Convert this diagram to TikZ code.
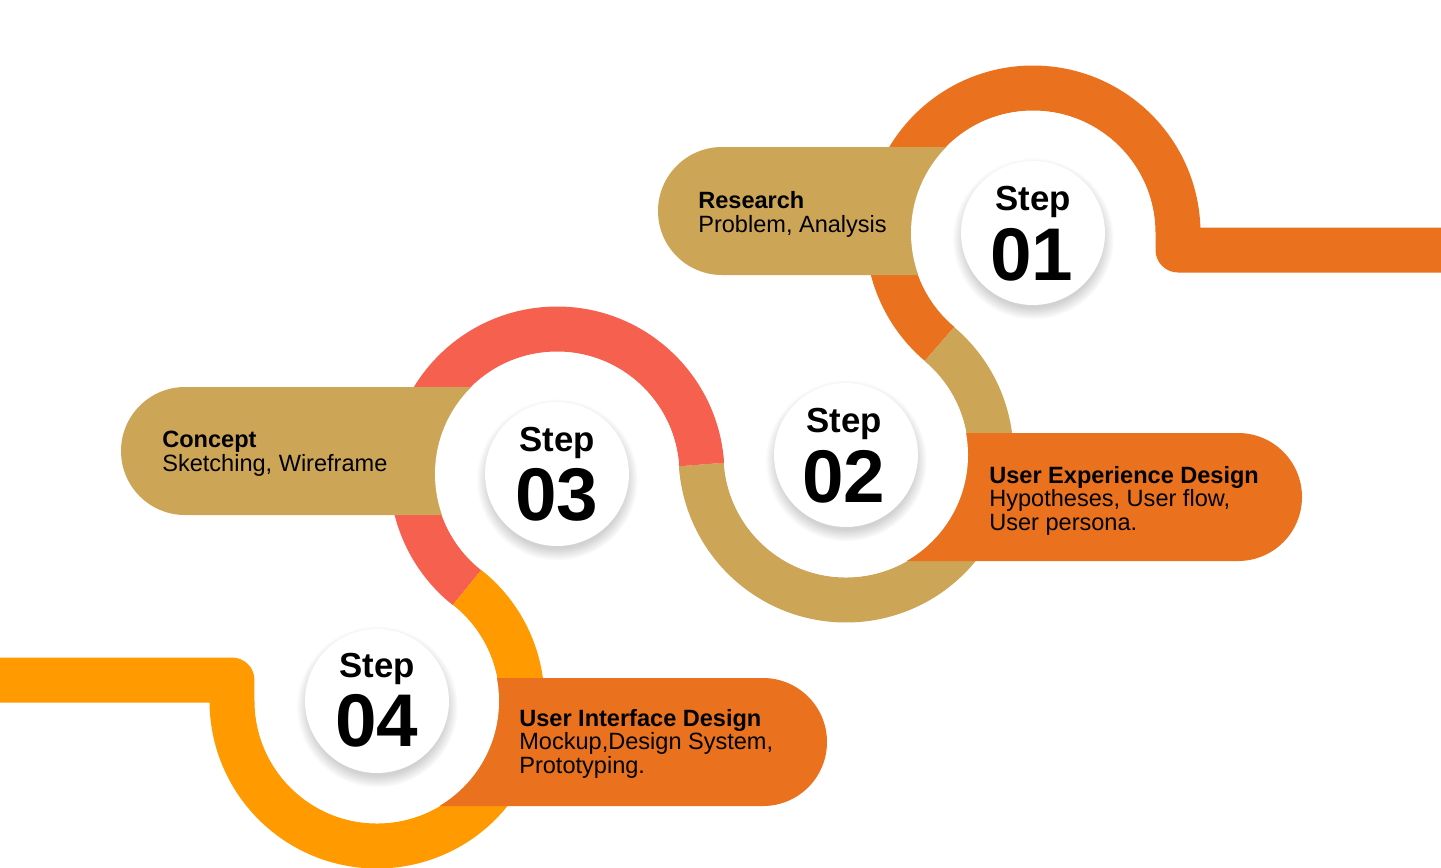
\documentclass[tikz,border=0pt]{standalone}
\usepackage{fontspec}
\setmainfont{Liberation Sans}
\usetikzlibrary{shadows}
\definecolor{rust}{HTML}{EA721E}
\definecolor{sand}{HTML}{CDA557}
\definecolor{coral}{HTML}{F5604F}
\definecolor{amber}{HTML}{FF9A00}

\begin{document}
\begin{tikzpicture}[x=0.02cm,y=-0.02cm]
      \tikzstyle{track}=[line width=0.9cm,line join=round]
      \tikzstyle{pill}=[rounded corners=1.28cm]
      \tikzstyle{stepdisc}=[circle,fill=white,minimum size=2.88cm,inner sep=0pt,
        circular drop shadow={shadow scale=1.12,shadow xshift=0pt,shadow yshift=-0.1cm,opacity=0.35}]
      \tikzstyle{steplbl}=[anchor=base,inner sep=0pt,font=\bfseries\fontsize{19.8}{20}\selectfont]
      \tikzstyle{stepnum}=[anchor=base,inner sep=0pt,font=\bfseries\fontsize{42.5}{43}\selectfont]
      \tikzstyle{info}=[anchor=base west,align=left,inner sep=0pt,font=\fontsize{13.4}{13.2}\selectfont]
      \useasboundingbox (0,0) rectangle (1441,867);
      % Centres of the four steps
      \coordinate (c1) at (1033,233);
      \coordinate (c2) at (846,455);
      \coordinate (c3) at (557,474);
      \coordinate (c4) at (377,701);
      % Winding track, one colour per step
      \draw[track,rust] (1441,250) -- (1178,250) -- (1178,233)
        arc[start angle=0,end angle=-229.89,radius=145];
      \draw[track,sand] (c2) ++(-49.89:145) arc[start angle=-49.89,end angle=176.24,radius=145];
      \draw[track,coral] (c3) ++(-3.76:145) arc[start angle=-3.76,end angle=-231.59,radius=145];
      \draw[track,amber] (c4) ++(-51.59:145) arc[start angle=-51.59,end angle=180,radius=145]
        -- ++(0,-21) -- (0,680);
      % Label pills
      \fill[sand,pill] (658,147) rectangle (1033,275);
      \fill[rust,pill] (846,433) rectangle (1302,561);
      \fill[sand,pill] (121,387) rectangle (557,515);
      \fill[rust,pill] (377,678) rectangle (827,806);
      % White holes inside the track
      \foreach \c in {c1,c2,c3,c4}
        \fill[white] (\c) circle[radius=122];
      % Step discs
      \node[stepdisc] (d1) at (c1) {};
      \node[stepdisc] (d2) at (c2) {};
      \node[stepdisc] (d3) at (c3) {};
      \node[stepdisc] (d4) at (c4) {};
      \node[steplbl] (s1) at (1033,210) {Step};
      \node[stepnum] (n1) at (1032,280) {01};
      \node[steplbl] (s2) at (844,432) {Step};
      \node[stepnum] (n2) at (844,502) {02};
      \node[steplbl] (s3) at (557,451) {Step};
      \node[stepnum] (n3) at (557,520) {03};
      \node[steplbl] (s4) at (377,677) {Step};
      \node[stepnum] (n4) at (377,746) {04};
      % Texts in the pills (anchored on the last line)
      \node[info] (t1) at (698,232) {\textbf{Research}\\Problem, Analysis};
      \node[info] (t2) at (989,530) {\textbf{User Experience Design}\\Hypotheses, User flow,\\User persona.};
      \node[info] (t3) at (162,471) {\textbf{Concept}\\Sketching, Wireframe};
      \node[info] (t4) at (519,773) {\textbf{User Interface Design}\\Mockup,Design System,\\Prototyping.};
    \end{tikzpicture}
\end{document}
